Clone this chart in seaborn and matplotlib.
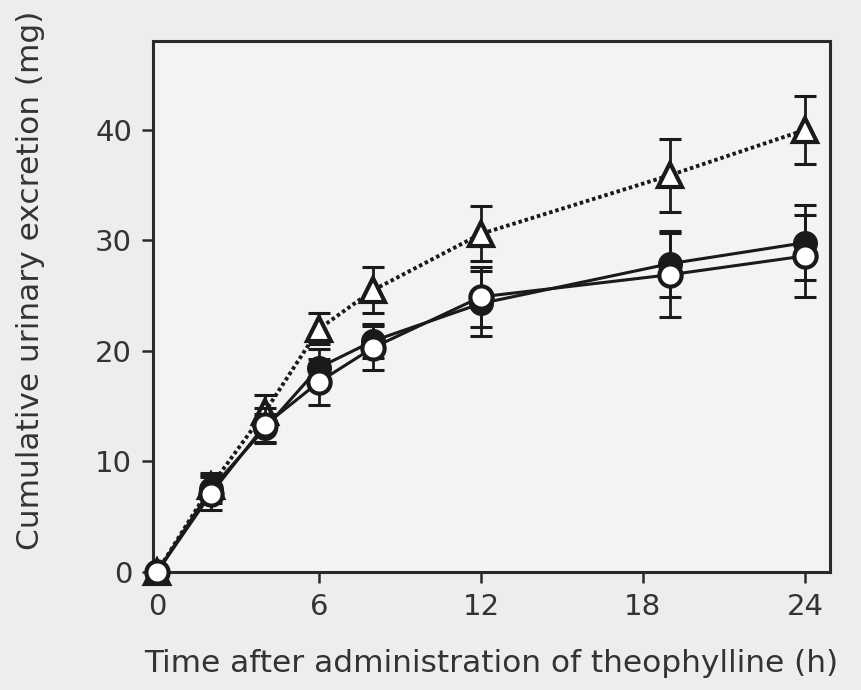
import matplotlib
matplotlib.use("Agg")
import matplotlib.pyplot as plt
import seaborn as sns
import pandas as pd

# ---- data ----
time_h = [0, 2, 4, 6, 8, 12, 19, 24]
filled_mean = [0, 7.5, 13.0, 18.5, 20.9, 24.3, 27.9, 29.8]
filled_sd = [0, 1.3, 1.3, 1.7, 1.5, 2.9, 3.0, 3.4]
open_mean = [0, 7.1, 13.3, 17.2, 20.3, 24.9, 26.9, 28.6]
open_sd = [0, 1.5, 1.5, 2.1, 2.0, 2.7, 3.8, 3.7]
tri_mean = [0, 7.8, 14.5, 22.0, 25.5, 30.6, 35.9, 40.0]
tri_sd = [0, 1.2, 1.5, 1.4, 2.1, 2.5, 3.3, 3.1]
x_ticks = [0, 6, 12, 18, 24]
y_ticks = [0, 10, 20, 30, 40]
x_label = "Time after administration of theophylline (h)"
y_label = "Cumulative urinary excretion (mg)"

sns.set_theme(style="ticks")
plt.rcParams["font.family"] = ["DejaVu Sans"]

BG = "#eeecee"
INK = "#1a1a1a"

fig = plt.figure(figsize=(8.61, 6.90), dpi=100, facecolor=BG)
ax = fig.add_axes([153 / 861, 1 - 572 / 690, (830 - 153) / 861, (572 - 41) / 690])
ax.set_facecolor("#f4f2f4")

df_tri = pd.DataFrame({"t": time_h, "v": tri_mean})
df_fil = pd.DataFrame({"t": time_h, "v": filled_mean})
df_opn = pd.DataFrame({"t": time_h, "v": open_mean})

eb = dict(fmt="none", ecolor=INK, elinewidth=2.0, capsize=8, capthick=2.2)

# triangles (dotted)
ax.errorbar(time_h[1:], tri_mean[1:], yerr=tri_sd[1:], zorder=2, **eb)
sns.lineplot(data=df_tri, x="t", y="v", ax=ax, color=INK, linewidth=2.8,
             linestyle=(0, (0.9, 0.75)), marker="^", markersize=17,
             markerfacecolor="white", markeredgecolor=INK, markeredgewidth=3.0,
             zorder=3, clip_on=False)

# filled circles
ax.errorbar(time_h[1:], filled_mean[1:], yerr=filled_sd[1:], zorder=4, **eb)
sns.lineplot(data=df_fil, x="t", y="v", ax=ax, color=INK, linewidth=2.2,
             marker="o", markersize=16, markerfacecolor=INK, markeredgecolor=INK,
             markeredgewidth=2.0, zorder=5, clip_on=False)

# open circles
ax.errorbar(time_h[1:], open_mean[1:], yerr=open_sd[1:], zorder=6, **eb)
sns.lineplot(data=df_opn, x="t", y="v", ax=ax, color=INK, linewidth=2.2,
             marker="o", markersize=16, markerfacecolor="white", markeredgecolor=INK,
             markeredgewidth=3.0, zorder=7, clip_on=False)

ax.set_xlim(-0.15, 24.93)
ax.set_ylim(0, 48.05)
ax.set_xticks(x_ticks)
ax.set_yticks(y_ticks)
ax.set_xticklabels([str(v) for v in x_ticks])
ax.set_yticklabels([str(v) for v in y_ticks])

for s in ax.spines.values():
    s.set_visible(True)
    s.set_linewidth(2.2)
    s.set_color("#2a2a2a")

ax.tick_params(axis="both", direction="out", length=8, width=1.8, color="#2a2a2a",
               labelsize=21, labelcolor="#333333")
ax.tick_params(axis="x", pad=7)
ax.tick_params(axis="y", pad=7)

ax.set_xlabel(x_label, fontsize=22.5, color="#333333", labelpad=20)
ax.set_ylabel(y_label, fontsize=22.5, color="#333333")
ax.yaxis.set_label_coords(-0.16, 0.55)

fig.savefig("out.png", dpi=100, facecolor=BG)
